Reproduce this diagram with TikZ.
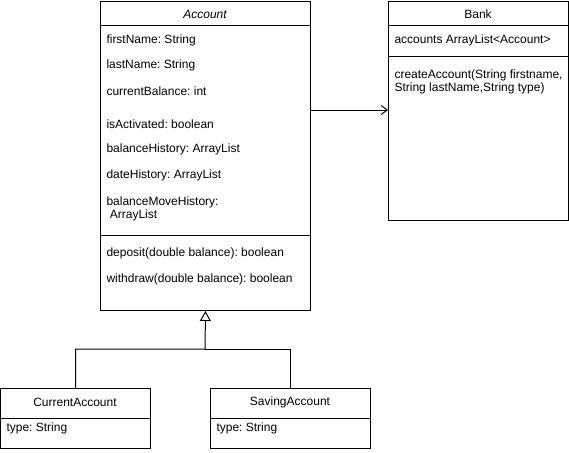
\documentclass[tikz,border=0pt]{standalone}
\usepackage{fontspec}
\setmainfont{Liberation Sans}
\usetikzlibrary{arrows.meta}
\frenchspacing
\begin{document}
\begin{tikzpicture}[x=1pt,y=-1pt,line width=1pt,
  box/.style={draw,anchor=north west,inner sep=0pt},
  attr/.style={anchor=west,inner sep=0pt,font=\fontsize{12}{14}\selectfont\frenchspacing},
  ttl/.style={anchor=center,inner sep=0pt,font=\fontsize{12}{14}\selectfont},
  inh/.style={-{Triangle[open,length=10pt,width=11pt]}},
  assoc/.style={-{Straight Barb[length=6pt,width=9pt]}}]
\useasboundingbox (0,0) rectangle (569,452);
% Account
\node[box,minimum width=210pt,minimum height=309pt] (acc) at (100,1) {};
\draw (100,26) -- (310,26);
\draw (100,235) -- (310,235);
\node[ttl,font=\fontsize{12}{14}\selectfont\itshape] (acct) at (205,14) {Account};
\node[attr] (a1) at (106,40.5) {firstName: String};
\node[attr] (a2) at (106,65.5) {lastName: String};
\node[attr] (a3) at (106,91.5) {currentBalance: int};
\node[attr] (a4) at (106,124.5) {isActivated: boolean};
\node[attr] (a5) at (106,149.5) {balanceHistory: ArrayList};
\node[attr] (a6) at (106,175.5) {dateHistory: ArrayList};
\node[attr] (a7) at (106,202.5) {balanceMoveHistory:};
\node[attr] (a8) at (106,215.5) {\ ArrayList};
\node[attr] (m1) at (106,253.5) {deposit(double balance): boolean};
\node[attr] (m2) at (106,279.5) {withdraw(double balance): boolean};
% Bank
\node[box,minimum width=180pt,minimum height=219pt] (bank) at (388,1) {};
\draw (388,26) -- (568,26);
\draw (388,56) -- (568,56);
\node[ttl] (bankt) at (478,14) {Bank};
\node[attr] (b1) at (394,40.5) {accounts ArrayList<Account>};
\node[attr] (b2) at (394,75.5) {createAccount(String firstname,};
\node[attr] (b3) at (394,88.5) {String lastName,String type)};
% CurrentAccount
\node[box,minimum width=150pt,minimum height=60pt] (cur) at (0,388) {};
\draw (0,418) -- (150,418);
\node[ttl] (curt) at (75,402) {CurrentAccount};
\node[attr] (c1) at (6,428.5) {type: String};
% SavingAccount
\node[box,minimum width=160pt,minimum height=60pt] (sav) at (210,388) {};
\draw (210,418) -- (370,418);
\node[ttl] (savt) at (290,402) {SavingAccount};
\node[attr] (s1) at (216,428.5) {type: String};
% connectors
\coordinate (j) at (205,349);
\draw[inh] (cur.north) |- (j) -- (acc.south);
\draw (sav.north) |- (j);
\draw[assoc] (acc.north east) ++(0,109) coordinate (s) -- (s -| bank.west);
\end{tikzpicture}
\end{document}
